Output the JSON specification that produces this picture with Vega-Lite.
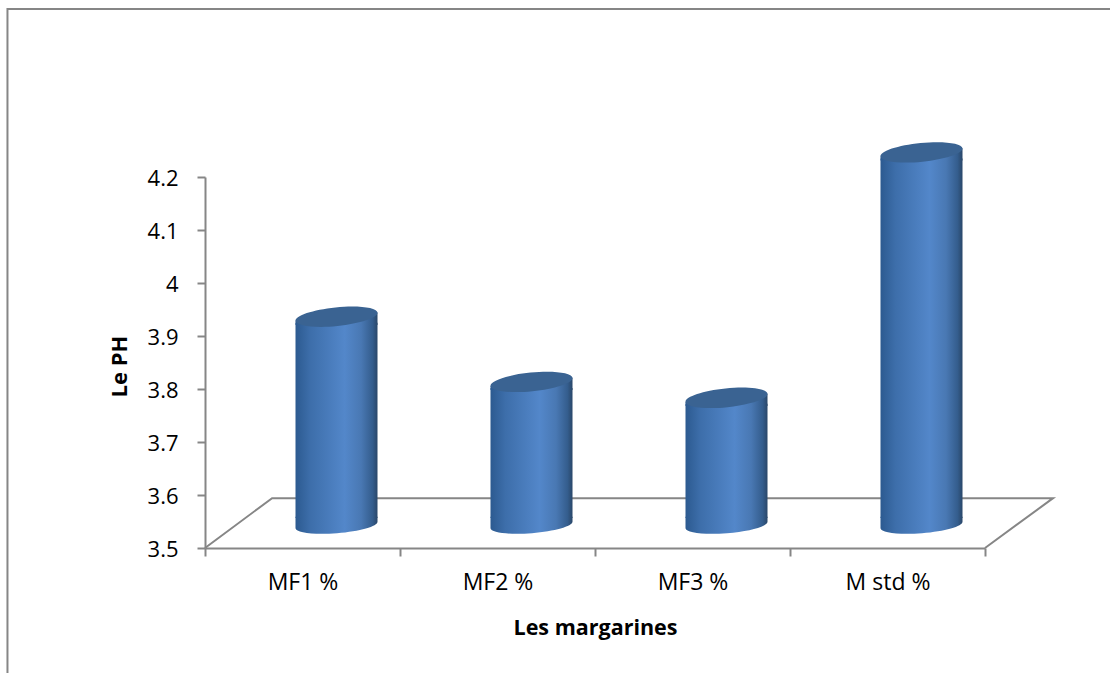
{
  "$schema": "https://vega.github.io/schema/vega-lite/v6.json",
  "autosize": "none",
  "width": 780,
  "height": 371,
  "padding": {"left": 205, "top": 177, "right": 125, "bottom": 125},
  "background": "#ffffff",
  "config": {"view": {"stroke": null}, "font": "Open Sans"},
  "datasets": {
    "ph": [
      {"margarine": "MF1 %", "ph": 3.893, "base": 3.5},
      {"margarine": "MF2 %", "ph": 3.77, "base": 3.5},
      {"margarine": "MF3 %", "ph": 3.74, "base": 3.5},
      {"margarine": "M std %", "ph": 4.203, "base": 3.5}
    ],
    "outline": [
      {"part": "floor", "step": 0, "u": 0, "v": 3.5},
      {"part": "floor", "step": 1, "u": 0.344, "v": 3.594},
      {"part": "floor", "step": 2, "u": 4.349, "v": 3.594},
      {"part": "floor", "step": 3, "u": 4, "v": 3.5},
      {"part": "frame", "step": 0, "u": -1.013, "v": 3.25},
      {"part": "frame", "step": 1, "u": -1.013, "v": 4.517},
      {"part": "frame", "step": 2, "u": 4.65, "v": 4.517}
    ]
  },
  "layer": [
    {
      "data": {"name": "outline"},
      "mark": {"type": "line", "color": "#868686", "strokeWidth": 2, "clip": false},
      "encoding": {
        "x": {"field": "u", "type": "quantitative", "scale": {"domain": [0, 4], "nice": false, "zero": false}, "axis": null},
        "y": {"field": "v", "type": "quantitative", "scale": {"domain": [3.5, 4.2], "nice": false, "zero": false},
          "axis": {
            "title": "Le PH", "titleFont": "Open Sans", "titleFontSize": 22, "titleFontWeight": "bold", "titleColor": "#000000",
            "titleX": -74, "titleY": 189,
            "values": [3.5, 3.6, 3.7, 3.8, 3.9, 4, 4.1, 4.2], "format": ".1~f",
            "labelFont": "Open Sans", "labelFontSize": 22, "labelColor": "#000000", "labelPadding": 19, "labelOffset": 1,
            "domainColor": "#868686", "domainWidth": 2, "tickColor": "#868686", "tickWidth": 2, "tickSize": 8, "grid": false
          }},
        "detail": {"field": "part"},
        "order": {"field": "step"}
      }
    },
    {
      "data": {"name": "ph"},
      "mark": {
        "type": "bar", "size": 82, "xOffset": 34, "yOffset": -17, "y2Offset": -30,
        "fill": {"x1": 0, "x2": 1, "y1": 0, "y2": 0, "gradient": "linear", "stops": [
          {"offset": 0, "color": "#2c5a90"}, {"offset": 0.18, "color": "#3d6eaa"}, {"offset": 0.6, "color": "#5387ca"},
          {"offset": 0.8, "color": "#4978b3"}, {"offset": 0.94, "color": "#345d8d"}, {"offset": 1, "color": "#2a4769"}
        ]}
      },
      "encoding": {
        "x": {"field": "margarine", "type": "nominal", "sort": null,
          "scale": {"domain": ["MF1 %", "MF2 %", "MF3 %", "M std %"], "paddingInner": 0, "paddingOuter": 0},
          "axis": {
            "title": "Les margarines", "titleFont": "Open Sans", "titleFontSize": 21.5, "titleFontWeight": "bold", "titleColor": "#000000",
            "titleY": 69, "labelAngle": 0, "tickBand": "extent",
            "labelFont": "Open Sans", "labelFontSize": 23, "labelColor": "#000000", "labelPadding": 15,
            "domainColor": "#868686", "domainWidth": 2, "tickColor": "#868686", "tickWidth": 2, "tickSize": 8, "grid": false
          }},
        "y": {"field": "ph", "type": "quantitative", "scale": {"domain": [3.5, 4.2], "nice": false, "zero": false}},
        "y2": {"field": "base"}
      }
    },
    {
      "data": {"name": "ph"},
      "mark": {
        "type": "point", "filled": true, "opacity": 1, "strokeWidth": 0, "size": 6724, "xOffset": 34, "yOffset": -23,
        "shape": "M-1,0.2 L-1,0.1 L1,-0.1 L1,0.2 Z",
        "fill": {"x1": 0, "x2": 1, "y1": 0, "y2": 0, "gradient": "linear", "stops": [
          {"offset": 0, "color": "#2c5a90"}, {"offset": 0.18, "color": "#3d6eaa"}, {"offset": 0.6, "color": "#5387ca"},
          {"offset": 0.8, "color": "#4978b3"}, {"offset": 0.94, "color": "#345d8d"}, {"offset": 1, "color": "#2a4769"}
        ]}
      },
      "encoding": {
        "x": {"field": "margarine", "type": "nominal", "sort": null, "axis": null,
          "scale": {"domain": ["MF1 %", "MF2 %", "MF3 %", "M std %"], "paddingInner": 0, "paddingOuter": 0}},
        "y": {"field": "ph", "type": "quantitative", "scale": {"domain": [3.5, 4.2], "nice": false, "zero": false}}
      }
    },
    {
      "data": {"name": "ph"},
      "mark": {
        "type": "point", "filled": true, "opacity": 1, "strokeWidth": 0, "size": 6724, "xOffset": 34, "yOffset": -23,
        "shape": "M-1,-0.2 L1,-0.2 L1,-0.08 A1.003,0.2,-4.6,0,1,-1,0.08 Z",
        "fill": {"x1": 0, "x2": 1, "y1": 0, "y2": 0, "gradient": "linear", "stops": [
          {"offset": 0, "color": "#2c5a90"}, {"offset": 0.18, "color": "#3d6eaa"}, {"offset": 0.6, "color": "#5387ca"},
          {"offset": 0.8, "color": "#4978b3"}, {"offset": 0.94, "color": "#345d8d"}, {"offset": 1, "color": "#2a4769"}
        ]}
      },
      "encoding": {
        "x": {"field": "margarine", "type": "nominal", "sort": null, "axis": null,
          "scale": {"domain": ["MF1 %", "MF2 %", "MF3 %", "M std %"], "paddingInner": 0, "paddingOuter": 0}},
        "y": {"field": "base", "type": "quantitative", "scale": {"domain": [3.5, 4.2], "nice": false, "zero": false}}
      }
    },
    {
      "data": {"name": "ph"},
      "mark": {
        "type": "point", "filled": true, "opacity": 1, "strokeWidth": 0, "size": 6724, "xOffset": 34, "yOffset": -23,
        "shape": "M-1,0.1 A1.005,0.23,-5.7,0,1,1,-0.1 A1.005,0.23,-5.7,0,1,-1,0.1 Z",
        "fill": "#3a6392"
      },
      "encoding": {
        "x": {"field": "margarine", "type": "nominal", "sort": null, "axis": null,
          "scale": {"domain": ["MF1 %", "MF2 %", "MF3 %", "M std %"], "paddingInner": 0, "paddingOuter": 0}},
        "y": {"field": "ph", "type": "quantitative", "scale": {"domain": [3.5, 4.2], "nice": false, "zero": false}}
      }
    }
  ],
  "resolve": {"scale": {"x": "independent"}}
}
